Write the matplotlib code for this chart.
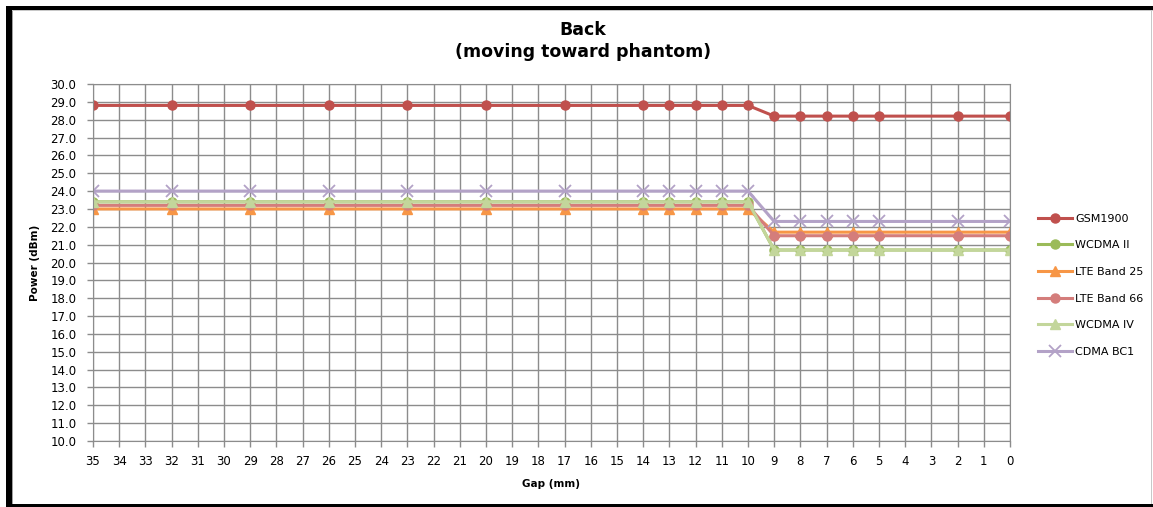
import matplotlib.pyplot as plt
from matplotlib.patches import Rectangle

# Gap positions (mm) and measured power (dBm)
gap = [35, 32, 29, 26, 23, 20, 17, 14, 13, 12, 11, 10, 9, 8, 7, 6, 5, 2, 0]

gsm1900 = [28.8] * 12 + [28.2] * 7
wcdma_ii = [23.4] * 12 + [20.7] * 7
lte_b25 = [23.0] * 12 + [21.7] * 7
lte_b66 = [23.2] * 12 + [21.5] * 7
wcdma_iv = [23.4] * 12 + [20.7] * 7
cdma_bc1 = [24.0] * 12 + [22.3] * 7

series = [
    ('GSM1900', gsm1900, '#C0504D', 'o', 6.5),
    ('WCDMA II', wcdma_ii, '#9BBB59', 'o', 6.5),
    ('LTE Band 25', lte_b25, '#F79646', '^', 7.5),
    ('LTE Band 66', lte_b66, '#D47D7B', 'o', 6.5),
    ('WCDMA IV', wcdma_iv, '#C3D69B', '^', 7.5),
    ('CDMA BC1', cdma_bc1, '#B3A2C7', 'x', 8),
]

plt.rcParams['font.family'] = ['DejaVu Sans']

W, H = 1153, 507
fig = plt.figure(figsize=(W / 100, H / 100), dpi=100)
ax = fig.add_axes([93 / W, 1 - 441 / H, (1010 - 93) / W, (441 - 84) / H])

for name, vals, col, mk, ms in series:
    ax.plot(gap, vals, color=col, lw=2.2, marker=mk, ms=ms, mew=1.3 if mk == 'x' else 1,
            label=name)

ax.set_xlim(35, 0)
ax.set_ylim(10, 30)
ax.set_xticks(range(0, 36))
ax.set_yticks([10 + i for i in range(21)])
ax.set_yticklabels(['%.1f' % (10 + i) for i in range(21)])
ax.grid(True, color='#8c8c8c', lw=1)
ax.set_axisbelow(True)
for s in ax.spines.values():
    s.set_color('#8c8c8c')
ax.tick_params(axis='both', length=4, color='#8c8c8c', labelsize=8.5, width=1)
ax.tick_params(axis='x', pad=6)
ax.tick_params(axis='y', pad=8)

ax.set_xlabel('Gap (mm)', fontsize=7.5, fontweight='bold', labelpad=8)
ax.set_ylabel('Power (dBm)', fontsize=7.5, fontweight='bold', labelpad=7)
fig.text(583 / W, 1 - 41 / H, 'Back\n(moving toward phantom)', fontsize=12.5,
         fontweight='bold', ha='center', va='center', linespacing=1.3)

ax.legend(loc='upper left', bbox_to_anchor=(1.02, 0.665), frameon=False, fontsize=8,
          handlelength=3, labelspacing=1.5, handletextpad=0.3)

# frame round the figure: heavy black left/top, thin bottom, grey right
def px_rect(x0, y0, x1, y1, col):
    fig.patches.append(Rectangle((x0 / W, 1 - y1 / H), (x1 - x0) / W, (y1 - y0) / H,
                                 transform=fig.transFigure, color=col, lw=0))

px_rect(6, 6, 12, 507, 'black')
px_rect(6, 6, 1153, 10, 'black')
px_rect(6, 504, 1153, 507, 'black')
px_rect(12, 10, 13, 504, '#a0a0a0')
px_rect(12, 10, 1153, 11, '#c8c8c8')
px_rect(1151, 10, 1152, 504, '#c8c8c8')

fig.savefig('out.png', dpi=100)
